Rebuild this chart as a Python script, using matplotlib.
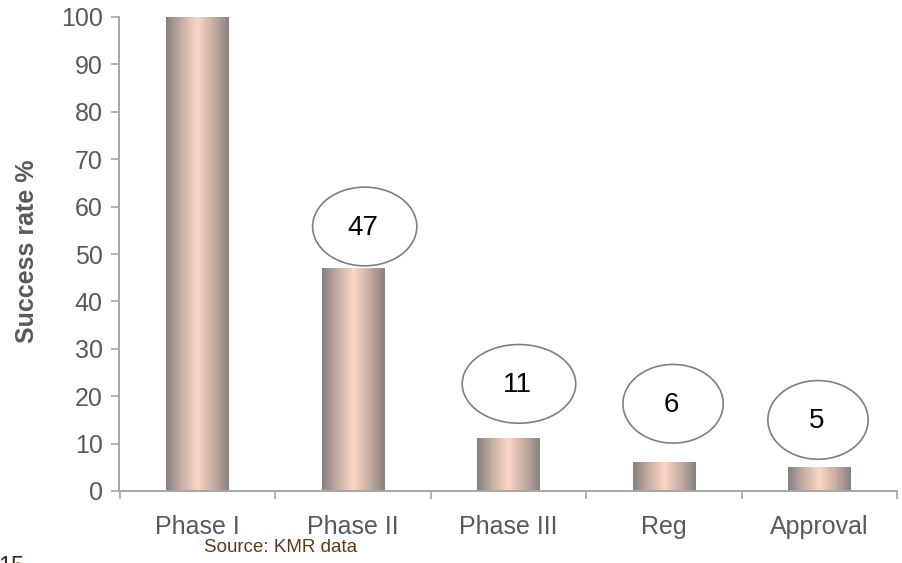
import numpy as np
import matplotlib.pyplot as plt
from matplotlib.colors import LinearSegmentedColormap
from matplotlib.patches import Ellipse

# Chart data
phases = ['Phase I', 'Phase II', 'Phase III', 'Reg', 'Approval']
success_rate = [100, 47, 11, 6, 5]
callout_values = ['', '47', '11', '6', '5']

# Callout bubble placement (x offset from bar centre, y in data units)
callout_dx = [0, 0.077, 0.069, 0.06, -0.008]
callout_y = [0, 55.8, 22.6, 18.4, 15.0]
callout_w = [0, 0.67, 0.73, 0.645, 0.645]
callout_h = 16.6

grey = '#595959'
axis_grey = '#a6a6a6'

plt.rcParams['font.family'] = ['Liberation Sans', 'DejaVu Sans']

fig = plt.figure(figsize=(9.03, 5.63), dpi=100)
ax = fig.add_axes([119.5 / 903, 1 - 491 / 563, (897 - 119.5) / 903, (491 - 17) / 563])

x = np.arange(len(phases))
bar_w = 0.4

# metallic gradient fill for each bar
cmap = LinearSegmentedColormap.from_list(
    'metal', ['#858080', '#c8aea3', '#fcd6c5', '#c8aea3', '#878280'])
grad = np.linspace(0, 1, 256).reshape(1, -1)
bars = ax.bar(x, success_rate, width=bar_w, color='none', edgecolor='none')
for b in bars:
    ax.imshow(grad, cmap=cmap, aspect='auto', zorder=2,
              extent=(b.get_x(), b.get_x() + b.get_width(), 0, b.get_height()))

# callout bubbles with the stated values
for i, txt in enumerate(callout_values):
    if not txt:
        continue
    cx = x[i] + callout_dx[i]
    ax.add_patch(Ellipse((cx, callout_y[i]), callout_w[i], callout_h,
                         facecolor='white', edgecolor='#7f7f7f', lw=1.2, zorder=3))
    ax.text(cx - 0.01, callout_y[i] - 0.3, txt, ha='center', va='center',
            fontsize=20, color='black', zorder=4)

ax.set_xlim(-0.5, len(phases) - 0.5)
ax.set_ylim(0, 100)
ax.set_yticks(np.arange(0, 101, 10))

# category labels centred, tick marks on the boundaries
ax.set_xticks(x)
ax.set_xticklabels(phases)
ax.set_xticks(np.arange(-0.5, len(phases)), minor=True)
ax.tick_params(axis='x', which='major', length=0, pad=17, labelsize=18, labelcolor=grey)
ax.tick_params(axis='x', which='minor', length=6, width=1.2, color=axis_grey, direction='out')
ax.tick_params(axis='y', length=6, width=1.2, color=axis_grey, pad=6,
               labelsize=18, labelcolor=grey)

for side in ['top', 'right']:
    ax.spines[side].set_visible(False)
for side in ['left', 'bottom']:
    ax.spines[side].set_color(axis_grey)
    ax.spines[side].set_linewidth(1.4)

ax.set_ylabel('Success rate %', fontsize=18, fontweight='bold', color=grey)
ax.yaxis.set_label_coords(-0.103, 0.505)

fig.text(281 / 903, 1 - 548 / 563, 'Source: KMR data', ha='center', va='center',
         fontsize=13.5, color='#603913')
fig.text(-2 / 903, 1 - 556 / 563, '15', ha='left', va='top', fontsize=17, color='#3a2a1a')

fig.savefig('out.png', dpi=100)
